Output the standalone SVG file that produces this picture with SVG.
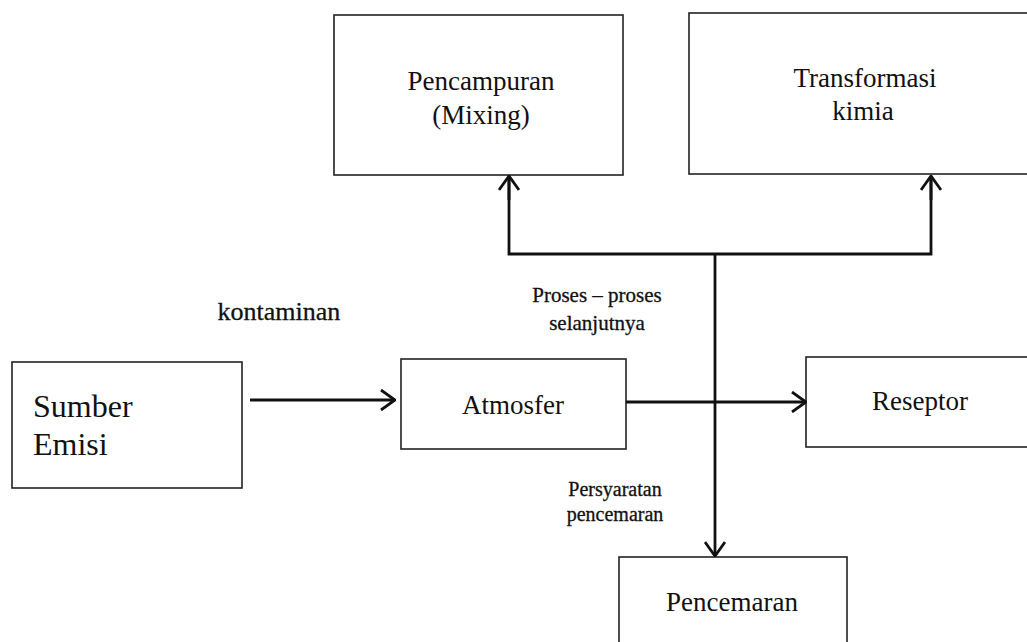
<svg xmlns="http://www.w3.org/2000/svg" width="1027" height="642" viewBox="0 0 1027 642">
<style>
.box{fill:#fff;stroke:#222;stroke-width:1.6}
.t{font-family:"Liberation Serif","Times New Roman",serif;fill:#111;font-size:27px;text-anchor:middle}
.s{font-size:21px;stroke:#111;stroke-width:0.3}
.c{fill:none;stroke:#111;stroke-width:2.8}
</style>
<defs>
<marker id="ah" viewBox="0 0 16 22" refX="15" refY="11" markerWidth="16" markerHeight="22" markerUnits="userSpaceOnUse" orient="auto">
<path d="M1,1 L15,11 L1,21" fill="none" stroke="#111" stroke-width="2.8"/>
</marker>
</defs>
<rect width="1027" height="642" fill="#fff"/>
<g id="pencampuran">
<rect class="box" x="334" y="15" width="289" height="160"/>
<text class="t" x="481" y="90">Pencampuran</text>
<text class="t" x="481" y="124">(Mixing)</text>
</g>
<g id="transformasi">
<rect class="box" x="689" y="13" width="360" height="161"/>
<text class="t" x="865" y="87">Transformasi</text>
<text class="t" x="863" y="120">kimia</text>
</g>
<g id="sumber">
<rect class="box" x="12" y="362" width="230" height="126"/>
<text class="t" x="33" y="417" style="text-anchor:start;font-size:32px">Sumber</text>
<text class="t" x="33" y="455" style="text-anchor:start;font-size:32px">Emisi</text>
</g>
<g id="atmosfer">
<rect class="box" x="401" y="359" width="225" height="90"/>
<text class="t" x="513" y="414">Atmosfer</text>
</g>
<g id="reseptor">
<rect class="box" x="806" y="357" width="240" height="90"/>
<text class="t" x="920" y="410">Reseptor</text>
</g>
<g id="pencemaran">
<rect class="box" x="619" y="557" width="228" height="100"/>
<text class="t" x="732" y="611">Pencemaran</text>
</g>
<g id="connectors">
<line class="c" x1="250" y1="400" x2="395" y2="400" marker-end="url(#ah)"/>
<line class="c" x1="626" y1="402" x2="806" y2="402" marker-end="url(#ah)"/>
<line class="c" x1="715" y1="253" x2="715" y2="556" marker-end="url(#ah)"/>
<polyline class="c" points="509,176 509,254 931,254 931,176" />
<line class="c" x1="509" y1="200" x2="509" y2="176" marker-end="url(#ah)"/>
<line class="c" x1="931" y1="200" x2="931" y2="176" marker-end="url(#ah)"/>
</g>
<g id="labels">
<text class="t" x="279" y="320" style="font-size:26px;stroke:#111;stroke-width:0.3">kontaminan</text>
<text class="t s" x="597" y="302">Proses – proses</text>
<text class="t s" x="597" y="330">selanjutnya</text>
<text class="t s" x="615" y="496" style="font-size:20px">Persyaratan</text>
<text class="t s" x="615" y="521" style="font-size:20px">pencemaran</text>
</g>
</svg>
